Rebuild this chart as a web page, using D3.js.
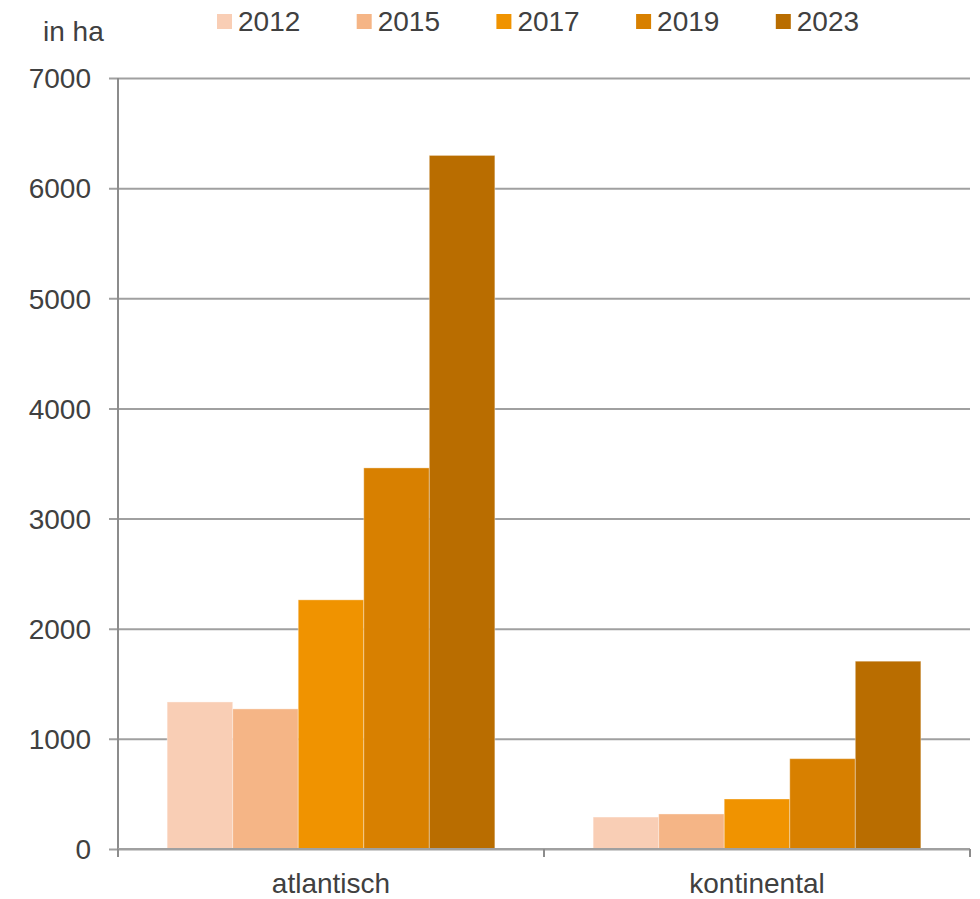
<!DOCTYPE html>
<html><head><meta charset="utf-8">
<script src="https://cdn.jsdelivr.net/npm/d3@7"></script>
<style>body{margin:0;background:#fff}svg{display:block}text{font-family:"Liberation Sans",Arial,sans-serif;fill:#404040}</style>
</head><body><svg id="c" width="980" height="899"></svg>
<script>
const categories = ["atlantisch", "kontinental"];
const years = ["2012", "2015", "2017", "2019", "2023"];
const atlantisch = [1335, 1272, 2262, 3460, 6297];
const kontinental = [290, 318, 454, 820, 1705];
const colors = ["#F9CEB5", "#F5B586", "#F09300", "#D88000", "#B96D00"];
const yTicks = [0, 1000, 2000, 3000, 4000, 5000, 6000, 7000];
const seriesByCat = {atlantisch, kontinental};

const svg = d3.select("#c");
const L = 118, R = 970, T = 78, B = 849;
const x0 = d3.scaleBand().domain(categories).range([L, R]).paddingInner(0).paddingOuter(0);
const x1 = d3.scaleBand().domain(years).range([0, x0.bandwidth()]).paddingOuter(0.75).paddingInner(0);
const y = d3.scaleLinear().domain([0, 7000]).range([B, T]);

// gridlines + left ticks
const yAxis = d3.axisLeft(y).tickValues(yTicks).tickSize(-(R - L)).tickPadding(0).tickFormat(d3.format("d"));
const gy = svg.append("g").attr("transform", `translate(${L},0)`).call(yAxis);
gy.select(".domain").remove();
gy.selectAll(".tick line").attr("stroke", "#a0a0a0").attr("stroke-width", 2).attr("x1", -9);
gy.selectAll(".tick text").attr("x", -27).attr("font-size", 28).attr("dy", "0.35em").style("fill", "#404040");

// bars
categories.forEach(c => {
  svg.append("g").selectAll("rect").data(seriesByCat[c]).join("rect")
    .attr("x", (d, i) => x0(c) + x1(years[i]))
    .attr("width", x1.bandwidth())
    .attr("y", d => y(d))
    .attr("height", d => y(0) - y(d))
    .attr("fill", (d, i) => colors[i])
    .attr("stroke", "rgba(255,255,255,0.35)").attr("stroke-width", 1);
});

// y axis line
svg.append("line").attr("x1", L).attr("x2", L).attr("y1", T).attr("y2", B + 8).attr("stroke", "#8c8c8c").attr("stroke-width", 2);

// x axis
const xAxis = d3.axisBottom(x0).tickSize(0).tickPadding(0);
const gx = svg.append("g").attr("transform", `translate(0,${B})`).call(xAxis);
gx.select(".domain").attr("stroke", "#a0a0a0").attr("stroke-width", 2).attr("d", `M${L},0H${R}`);
gx.selectAll(".tick text").attr("y", 44).attr("dy", 0).attr("font-size", 28).style("fill", "#404040");
[L, x0("kontinental"), R].forEach(xx => {
  svg.append("line").attr("x1", xx).attr("x2", xx).attr("y1", B).attr("y2", B + 8).attr("stroke", "#8c8c8c").attr("stroke-width", 2);
});

// unit label
svg.append("text").attr("x", 43).attr("y", 41).attr("font-size", 28).text("in ha");

// legend
const lg = svg.append("g").selectAll("g").data(years).join("g")
  .attr("transform", (d, i) => `translate(${217 + i * 139.7},0)`);
lg.append("rect").attr("x", 0).attr("y", 14).attr("width", 15).attr("height", 15).attr("fill", (d, i) => colors[i]);
lg.append("text").attr("x", 21).attr("y", 31).attr("font-size", 28).text(d => d);
</script></body></html>
